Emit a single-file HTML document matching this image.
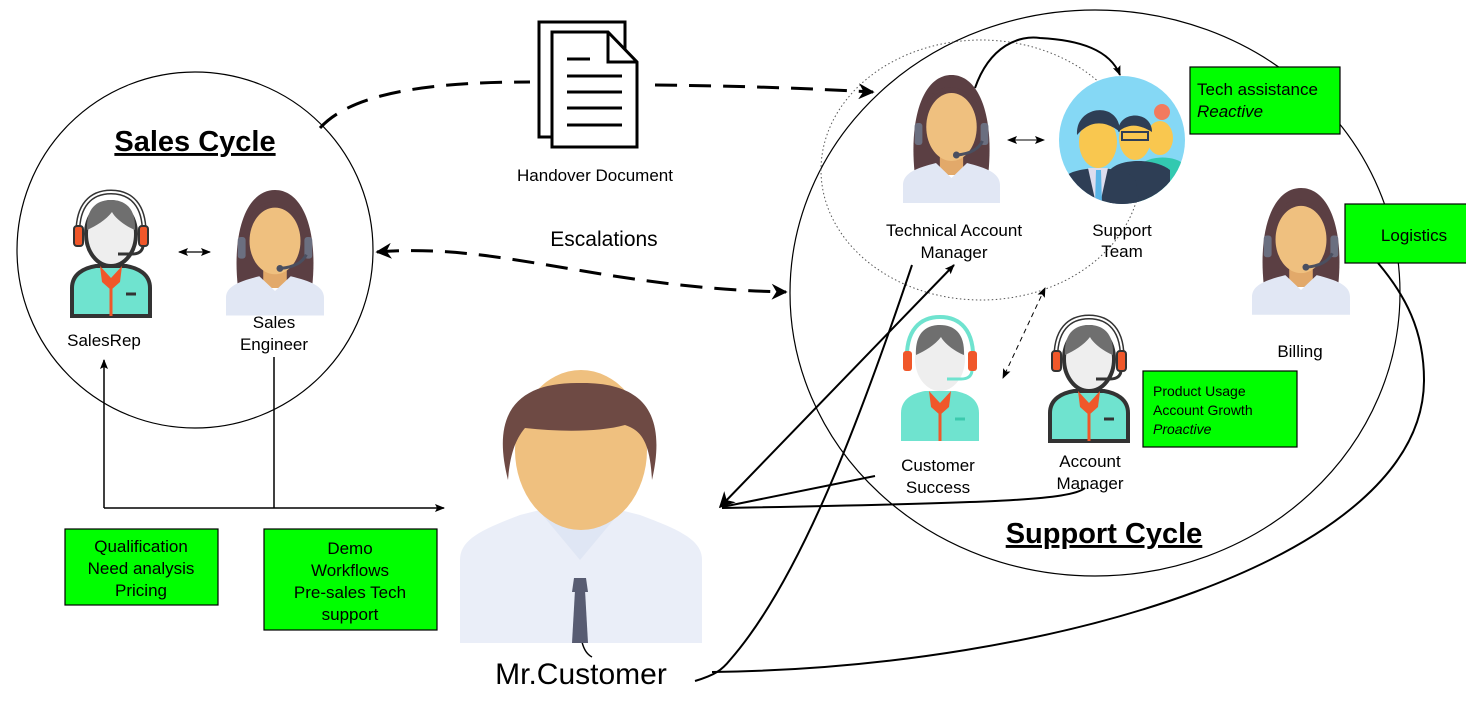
<!DOCTYPE html>
<html><head><meta charset="utf-8"><style>
html,body{margin:0;padding:0;background:#fff;}
svg{display:block;font-family:"Liberation Sans",sans-serif;}
</style></head><body>
<svg width="1466" height="711" viewBox="0 0 1466 711" xmlns="http://www.w3.org/2000/svg">
<defs>
<marker id="ah" viewBox="0 0 10 10" refX="9" refY="5" markerWidth="20" markerHeight="16" markerUnits="userSpaceOnUse" orient="auto-start-reverse"><path d="M0,0 L10,5 L0,10 L3,5 Z" fill="#000"/></marker>
<marker id="ahs" viewBox="0 0 10 10" refX="9" refY="5" markerWidth="12" markerHeight="10" markerUnits="userSpaceOnUse" orient="auto-start-reverse"><path d="M0,1 L10,5 L0,9 L2,5 Z" fill="#000"/></marker>
<g id="fem">
<path d="M12,98 C6,40 22,0 50,0 C78,0 94,40 88,98 Z" fill="#5b3f43"/>
<rect x="38" y="78" width="24" height="22" fill="#e2a96a"/>
<ellipse cx="50" cy="52" rx="26" ry="34" fill="#efc07f"/>
<path d="M24,30 C30,15 50,10 76,28 C70,18 55,12 50,12 C36,12 26,20 24,30Z" fill="#5b3f43"/>
<path d="M0,128 L0,110 C0,98 14,93 34,88 L50,103 L66,88 C86,93 100,98 100,110 L100,128 Z" fill="#e1e7f4"/>
<rect x="12" y="48" width="8" height="22" rx="3" fill="#6b6f80"/>
<rect x="80" y="48" width="8" height="22" rx="3" fill="#6b6f80"/>
<path d="M82,66 Q76,78 56,80" stroke="#4a4f60" stroke-width="3" fill="none"/>
<circle cx="55" cy="80" r="3.5" fill="#4a4f60"/>
</g>
<g id="agent">
<path d="M2,126 L2,98 C2,84 14,78 26,76 L56,76 C68,78 80,84 80,98 L80,126 Z" fill="#6fe3cf" stroke="#333" stroke-width="4"/>
<path d="M30,76 L41,88 L52,76 L50,92 L41,100 L32,92 Z" fill="#f0572a"/>
<line x1="41" y1="92" x2="41" y2="126" stroke="#f0572a" stroke-width="3"/>
<line x1="56" y1="104" x2="66" y2="104" stroke="#333" stroke-width="3"/>
<ellipse cx="41" cy="44" rx="25" ry="32" fill="#eee" stroke="#333" stroke-width="4"/>
<path d="M17,40 C16,15 30,10 41,10 C55,10 66,18 65,40 C55,36 45,28 42,22 C36,30 26,36 17,40Z" fill="#6f6f6f"/>
<path d="M8,48 C6,14 22,2 41,2 C60,2 76,14 74,48" fill="none" stroke="#333" stroke-width="5"/>
<path d="M8,48 C6,14 22,2 41,2 C60,2 76,14 74,48" fill="none" stroke="#fff" stroke-width="2"/>
<rect x="4" y="36" width="9" height="20" rx="3" fill="#f0572a" stroke="#333" stroke-width="2"/>
<rect x="69" y="36" width="9" height="20" rx="3" fill="#f0572a" stroke="#333" stroke-width="2"/>
<path d="M73,56 Q72,64 62,64 L48,64" stroke="#333" stroke-width="3" fill="none"/>
</g>
<g id="agent2">
<path d="M2,126 L2,98 C2,84 14,78 26,76 L56,76 C68,78 80,84 80,98 L80,126 Z" fill="#6fe3cf"/>
<path d="M30,76 L41,88 L52,76 L50,92 L41,100 L32,92 Z" fill="#f0572a"/>
<line x1="41" y1="92" x2="41" y2="126" stroke="#f0572a" stroke-width="3"/>
<line x1="56" y1="104" x2="66" y2="104" stroke="#3cc9ad" stroke-width="3"/>
<ellipse cx="41" cy="44" rx="25" ry="32" fill="#eee"/>
<path d="M17,40 C16,15 30,10 41,10 C55,10 66,18 65,40 C55,36 45,28 42,22 C36,30 26,36 17,40Z" fill="#6f6f6f"/>
<path d="M8,48 C6,14 22,2 41,2 C60,2 76,14 74,48" fill="none" stroke="#6fe3cf" stroke-width="4"/>
<rect x="4" y="36" width="9" height="20" rx="3" fill="#f0572a"/>
<rect x="69" y="36" width="9" height="20" rx="3" fill="#f0572a"/>
<path d="M73,56 Q72,64 62,64 L48,64" stroke="#6fe3cf" stroke-width="3" fill="none"/>
</g>
</defs>

<circle cx="195" cy="250" r="178" fill="none" stroke="#000" stroke-width="1.2"/>
<ellipse cx="1095" cy="293" rx="305" ry="283" fill="none" stroke="#000" stroke-width="1.2"/>
<ellipse cx="981" cy="170" rx="160" ry="130" fill="none" stroke="#555" stroke-width="1" stroke-dasharray="1.5,2.5"/>

<path d="M539,22 L625,22 L625,137 L539,137 Z" fill="#fff" stroke="#000" stroke-width="3"/>
<path d="M552,32 L608,32 L637,62 L637,147 L552,147 Z" fill="#fff" stroke="#000" stroke-width="3"/>
<path d="M608,32 L608,62 L637,62" fill="none" stroke="#000" stroke-width="3"/>
<g stroke="#000" stroke-width="3"><line x1="567" y1="59" x2="590" y2="59"/><line x1="567" y1="76" x2="622" y2="76"/><line x1="567" y1="92" x2="622" y2="92"/><line x1="567" y1="108" x2="622" y2="108"/><line x1="567" y1="125" x2="622" y2="125"/></g>

<path d="M320,128 C350,95 420,82 530,82" fill="none" stroke="#000" stroke-width="3" stroke-dasharray="22,12"/>
<path d="M655,85 C740,86 800,88 873,92" fill="none" stroke="#000" stroke-width="3" stroke-dasharray="22,12" marker-end="url(#ah)"/>
<path d="M377,252 C500,242 600,288 786,292" fill="none" stroke="#000" stroke-width="3" stroke-dasharray="22,12" marker-start="url(#ah)" marker-end="url(#ah)"/>

<path d="M104,508 L104,360" stroke="#000" stroke-width="1.5" fill="none" marker-end="url(#ahs)"/>
<path d="M104,508 L444,508" stroke="#000" stroke-width="1.5" fill="none" marker-end="url(#ahs)"/>
<line x1="274" y1="357" x2="274" y2="508" stroke="#000" stroke-width="1.5"/>
<line x1="179" y1="252" x2="210" y2="252" stroke="#000" stroke-width="1.2" marker-start="url(#ahs)" marker-end="url(#ahs)"/>
<line x1="1008" y1="140" x2="1044" y2="140" stroke="#000" stroke-width="1" marker-start="url(#ahs)" marker-end="url(#ahs)"/>
<line x1="1045" y1="288" x2="1003" y2="378" stroke="#000" stroke-width="1" stroke-dasharray="5,4" marker-start="url(#ahs)" marker-end="url(#ahs)"/>

<path d="M975,88 C990,45 1020,35 1040,38 C1080,40 1110,50 1120,75" fill="none" stroke="#000" stroke-width="2" marker-end="url(#ahs)"/>

<path d="M720,507 L954,265" stroke="#000" stroke-width="2" fill="none" marker-start="url(#ah)" marker-end="url(#ahs)"/>
<path d="M875,476 L722,507" stroke="#000" stroke-width="2" fill="none"/>
<path d="M1085,488 C1070,500 1000,503 722,508" stroke="#000" stroke-width="2" fill="none"/>
<path d="M695,681 C715,675 722,670 730,660 C800,580 860,420 912,265" stroke="#000" stroke-width="2" fill="none"/>
<path d="M712,672 C1050,668 1424,560 1424,380 C1424,330 1405,295 1378,263" stroke="#000" stroke-width="2" fill="none"/>
<path d="M582,642 C584,650 588,655 592,657" stroke="#000" stroke-width="1.5" fill="none"/>

<use href="#agent" x="70" y="190"/>
<use href="#fem" transform="translate(226,190) scale(0.98,0.98)"/>
<use href="#fem" transform="translate(903,75) scale(0.97,1)"/>
<use href="#fem" transform="translate(1252,188) scale(0.98,0.99)"/>
<use href="#agent2" x="899" y="315"/>
<use href="#agent" x="1048" y="315"/>

<ellipse cx="1122" cy="140" rx="63" ry="64" fill="#85d8f5"/>
<clipPath id="stc"><ellipse cx="1122" cy="140" rx="63" ry="64"/></clipPath>
<g clip-path="url(#stc)">
<ellipse cx="1160" cy="138" rx="13" ry="17" fill="#f9c74f"/><circle cx="1162" cy="112" r="8" fill="#f27a5e"/><path d="M1140,204 L1140,165 C1150,155 1175,155 1185,165 L1185,204Z" fill="#33c9b0"/>
<ellipse cx="1135" cy="138" rx="16" ry="22" fill="#f9c74f"/><path d="M1118,132 C1118,110 1152,110 1152,132 C1140,125 1130,122 1118,132Z" fill="#2e3e55"/>
<rect x="1122" y="132" width="26" height="8" fill="none" stroke="#2e3e55" stroke-width="2"/>
<path d="M1110,204 L1110,170 C1120,158 1155,158 1170,170 L1170,204Z" fill="#2e3e55"/>
<ellipse cx="1098" cy="142" rx="19" ry="26" fill="#f9c74f"/><path d="M1077,135 C1075,105 1120,100 1120,132 C1105,120 1090,120 1077,135Z" fill="#2e3e55"/>
<path d="M1060,204 L1063,178 C1075,165 1120,165 1135,178 L1140,204Z" fill="#2e3e55"/>
<path d="M1088,168 L1108,168 L1100,204 L1096,204Z" fill="#dde"/><path d="M1096,170 L1101,170 L1102,204 L1095,204Z" fill="#5ab6e8"/>
</g>

<g>
<path d="M460,643 L460,560 C460,540 480,530 520,515 L580,500 L640,515 C680,530 702,540 702,560 L702,643 Z" fill="#eaeef8"/>
<rect x="558" y="460" width="46" height="45" fill="#d8a063"/>
<path d="M540,512 L580,560 L620,512 L610,500 L580,530 L550,500 Z" fill="#dfe6f4"/>
<path d="M575,590 L585,590 L588,643 L572,643 Z" fill="#585c72"/><path d="M574,578 L586,578 L588,592 L572,592Z" fill="#585c72"/>
<ellipse cx="581" cy="450" rx="66" ry="80" fill="#efc07f"/>
<path d="M508,480 C490,410 520,382 580,383 C640,382 668,410 652,480 C650,440 640,430 625,425 C600,432 560,432 525,428 C515,440 510,455 508,480Z" fill="#6e4a44"/>
</g>

<g stroke="#000" stroke-width="1.2" fill="#00ff00">
<rect x="1190" y="67" width="150" height="67"/>
<rect x="1345" y="204" width="125" height="59"/>
<rect x="1143" y="371" width="154" height="76"/>
<rect x="65" y="529" width="153" height="76"/>
<rect x="264" y="529" width="173" height="101"/>
</g>

<g fill="#000" font-size="17">
<text x="1197" y="95">Tech assistance</text>
<text x="1197" y="117" font-style="italic">Reactive</text>
<text x="1414" y="241" text-anchor="middle">Logistics</text>
<text x="1153" y="396" font-size="14">Product Usage</text>
<text x="1153" y="415" font-size="14">Account Growth</text>
<text x="1153" y="434" font-size="14" font-style="italic">Proactive</text>
<g text-anchor="middle">
<text x="141" y="552">Qualification</text>
<text x="141" y="574">Need analysis</text>
<text x="141" y="596">Pricing</text>
<text x="350" y="554">Demo</text>
<text x="350" y="576">Workflows</text>
<text x="350" y="598">Pre-sales Tech</text>
<text x="350" y="620">support</text>
<text x="104" y="346">SalesRep</text>
<text x="274" y="328">Sales</text>
<text x="274" y="350">Engineer</text>
<text x="595" y="181">Handover Document</text>
<text x="604" y="246" font-size="21">Escalations</text>
<text x="954" y="236">Technical Account</text>
<text x="954" y="258">Manager</text>
<text x="1122" y="236">Support</text>
<text x="1122" y="257">Team</text>
<text x="1300" y="357">Billing</text>
<text x="938" y="471">Customer</text>
<text x="938" y="493">Success</text>
<text x="1090" y="467">Account</text>
<text x="1090" y="489">Manager</text>
<text x="581" y="684" font-size="30">Mr.Customer</text>
<text x="195" y="151" font-size="29" font-weight="bold" text-decoration="underline">Sales Cycle</text>
<text x="1104" y="543" font-size="29" font-weight="bold" text-decoration="underline">Support Cycle</text>
</g>
</g>
</svg>
</body></html>
